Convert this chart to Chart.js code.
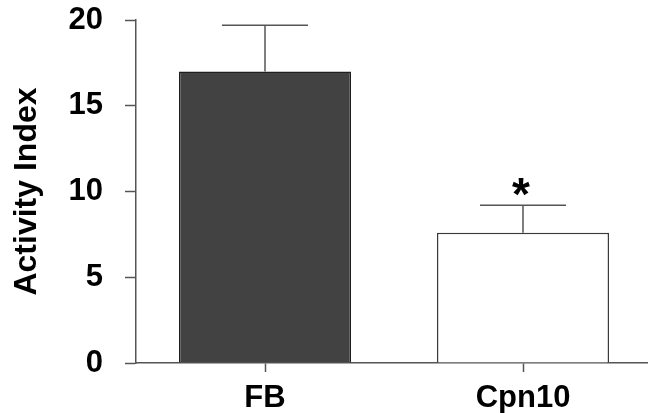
<!DOCTYPE html>
<html>
<head>
<meta charset="utf-8">
<script src="https://cdn.jsdelivr.net/npm/chart.js@4"></script>
<style>
    html, body { margin: 0; padding: 0; background: #ffffff; overflow: hidden; }
    canvas { display: block; }
</style>
</head>
<body>
<canvas id="activityChart" width="652" height="413"></canvas>
<script>
const groups = ['FB', 'Cpn10'];
const activityMean = [17.0, 7.6];
const activityUpper = [19.7, 9.2];
const significance = ['', '*'];
const yTicks = [0, 5, 10, 15, 20];

const fontFamily = '"Liberation Sans", Arial, sans-serif';

// draws the upward error bars and the significance star
const errorBarPlugin = {
    id: 'errorBars',
    afterDatasetsDraw(chart) {
        const ctx = chart.ctx;
        const yScale = chart.scales.y;
        const meta = chart.getDatasetMeta(0);
        ctx.save();
        meta.data.forEach((bar, i) => {
            const props = bar.getProps(['x', 'y', 'width'], true);
            const top = yScale.getPixelForValue(activityUpper[i]);
            const half = props.width / 4;
            ctx.strokeStyle = '#555555';
            ctx.lineWidth = 1.5;
            ctx.beginPath();
            ctx.moveTo(props.x, props.y);
            ctx.lineTo(props.x, top);
            ctx.moveTo(props.x - half, top);
            ctx.lineTo(props.x + half, top);
            ctx.stroke();

            if (significance[i]) {
                ctx.fillStyle = '#000000';
                ctx.font = 'bold 46px ' + fontFamily;
                ctx.textAlign = 'center';
                ctx.textBaseline = 'middle';
                ctx.fillText(significance[i], props.x - 2, top - 8);
            }
        });
        ctx.restore();
    }
};

const ctx = document.getElementById('activityChart');
new Chart(ctx, {
    type: 'bar',
    data: {
        labels: groups,
        datasets: [{
            label: 'Activity Index',
            data: activityMean,
            backgroundColor: ['#424242', '#ffffff'],
            borderColor: ['#1e1e1e', '#3a3a3a'],
            borderWidth: 1.5,
            borderSkipped: 'start',
            categoryPercentage: 1.0,
            barPercentage: 0.667
        }]
    },
    options: {
        responsive: false,
        animation: false,
        layout: {
            padding: { top: 20, left: 0, right: 0, bottom: 0 }
        },
        plugins: {
            legend: { display: false },
            tooltip: { enabled: false }
        },
        scales: {
            x: {
                grid: {
                    offset: false,
                    drawOnChartArea: false,
                    tickLength: 9,
                    tickWidth: 1.5,
                    color: '#555555'
                },
                border: { color: '#555555', width: 1.5 },
                ticks: {
                    color: '#000000',
                    padding: 8,
                    font: { family: fontFamily, size: 31, weight: 'bold' }
                },
                afterFit: scale => { scale.height = 50; }
            },
            y: {
                min: yTicks[0],
                max: yTicks[yTicks.length - 1],
                afterBuildTicks: scale => {
                    scale.ticks = yTicks.map(v => ({ value: v }));
                },
                grid: {
                    drawOnChartArea: false,
                    tickLength: 11,
                    tickWidth: 1.5,
                    color: '#555555'
                },
                border: { color: '#555555', width: 1.5 },
                ticks: {
                    color: '#000000',
                    padding: 22,
                    font: { family: fontFamily, size: 31, weight: 'bold' }
                },
                title: {
                    display: true,
                    text: 'Activity Index',
                    color: '#000000',
                    padding: { top: 8, bottom: 0 },
                    font: { family: fontFamily, size: 32, weight: 'bold' }
                },
                afterFit: scale => {
                    scale.width = 136;
                    scale.paddingTop = 0;
                    scale.paddingBottom = 0;
                }
            }
        }
    },
    plugins: [errorBarPlugin]
});
</script>
</body>
</html>
